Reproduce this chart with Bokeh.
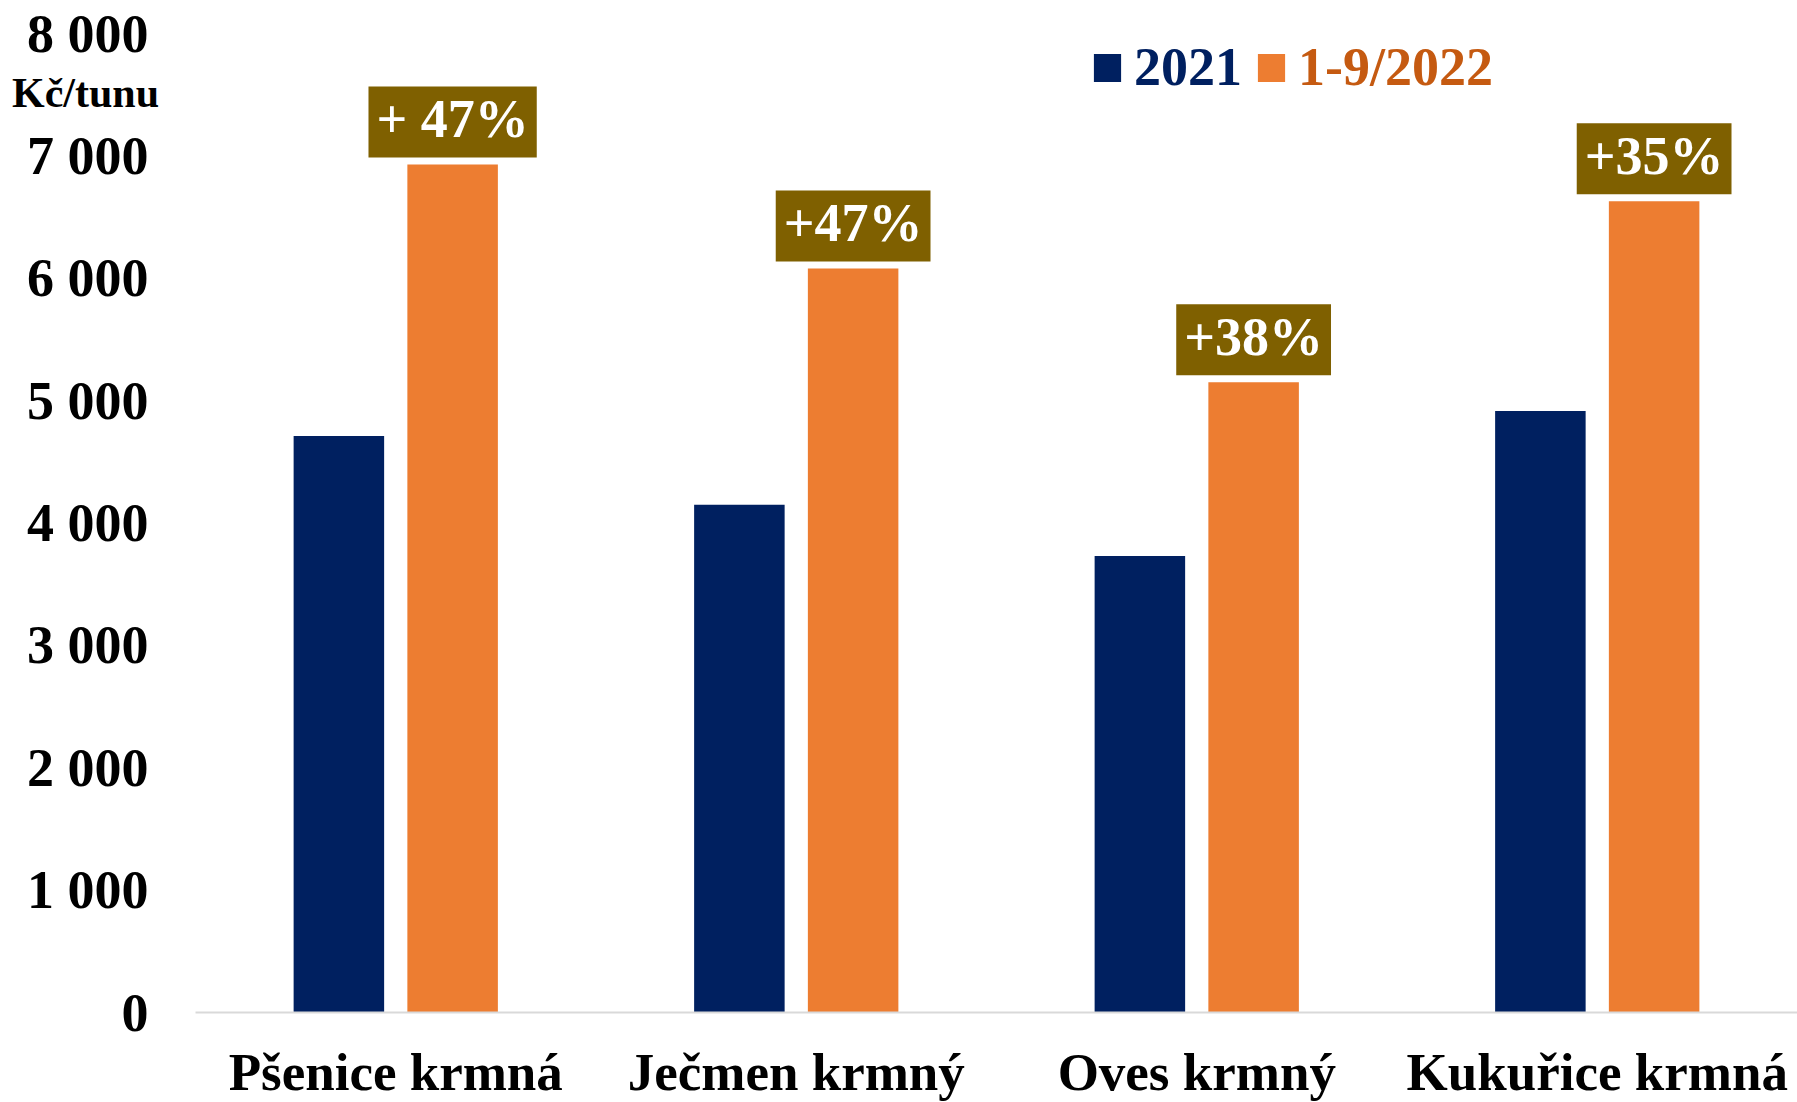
from bokeh.plotting import figure
from bokeh.models import ColumnDataSource, FixedTicker, Label, Legend, LegendItem, Range1d
from bokeh.transform import dodge
from bokeh.core.properties import value
from bokeh.embed import file_html
from bokeh.resources import INLINE

categories = ["Pšenice krmná", "Ječmen krmný", "Oves krmný", "Kukuřice krmná"]
values_2021 = [4710, 4150, 3730, 4915]
values_2022 = [6930, 6080, 5150, 6630]
change_labels = ["+ 47%", "+47%", "+38%", "+35%"]
series_names = ["2021", "1-9/2022"]
y_ticks = [0, 1000, 2000, 3000, 4000, 5000, 6000, 7000, 8000]
y_tick_labels = ["0", "1 000", "2 000", "3 000", "4 000", "5 000", "6 000", "7 000", "8 000"]
unit_label = "Kč/tunu"

NAVY = "#002060"
ORANGE = "#ED7D31"
ORANGE_TEXT = "#C55A11"
BOX = "#7F6000"
FONT = "Liberation Serif"

n = len(categories)
cat_pos = [i + 0.5 for i in range(n)]  # centre of each category slot

src = ColumnDataSource(dict(x=cat_pos, cat=categories, v21=values_2021,
                            v22=values_2022, lab=change_labels))

# layout: the frame fills the whole canvas; the axes are drawn inside it
W, H = 1797, 1102
left_px, top_px, bottom_px = 195, 33, 90       # room for tick labels
slot_px = (W - left_px) / n
x_start = -left_px / slot_px
y_max = y_ticks[-1]
px_per_unit = (H - top_px - bottom_px) / y_max
y_end = y_max + top_px / px_per_unit
y_start = -bottom_px / px_per_unit

p = figure(x_range=Range1d(x_start, n), y_range=Range1d(y_start, y_end), width=W, height=H,
           output_backend="svg", toolbar_location=None,
           min_border_left=0, min_border_right=0, min_border_top=0, min_border_bottom=0)
p.outline_line_color = None
p.grid.visible = False
p.background_fill_color = "white"
p.border_fill_color = "white"

bw = 0.226
off = 0.142
r21 = p.vbar(x=dodge("x", -off), top="v21", bottom=0, width=bw, source=src,
             fill_color=NAVY, line_color=None)
r22 = p.vbar(x=dodge("x", off), top="v22", bottom=0, width=bw, source=src,
             fill_color=ORANGE, line_color=None)

p.text(x=dodge("x", off), y="v22", text="lab", source=src,
       text_align="center", text_baseline="bottom", y_offset=-7,
       text_color="white", text_font=value(FONT), text_font_style="bold",
       text_font_size="54px", background_fill_color=BOX, padding=(8, 8, 3, 8))

# y axis drawn at the left edge of the category area
p.yaxis.fixed_location = 0
p.yaxis.ticker = FixedTicker(ticks=y_ticks)
p.yaxis.major_label_overrides = {t: l for t, l in zip(y_ticks, y_tick_labels)}
p.yaxis.bounds = (0, y_max)
p.yaxis.axis_line_color = None
p.yaxis.major_tick_line_color = None
p.yaxis.minor_tick_line_color = None
p.yaxis.major_label_standoff = 41
p.yaxis.major_label_text_font = FONT
p.yaxis.major_label_text_font_style = "bold"
p.yaxis.major_label_text_font_size = "54px"
p.yaxis.major_label_text_color = "black"

# x axis drawn at value 0
p.xaxis.fixed_location = 0
p.xaxis.ticker = FixedTicker(ticks=cat_pos)
p.xaxis.major_label_overrides = {x: c for x, c in zip(cat_pos, categories)}
p.xaxis.bounds = (0, n)
p.xaxis.axis_line_color = "#D9D9D9"
p.xaxis.axis_line_width = 2
p.xaxis.major_tick_line_color = None
p.xaxis.minor_tick_line_color = None
p.xaxis.major_label_standoff = 24
p.xaxis.major_label_text_font = FONT
p.xaxis.major_label_text_font_style = "bold"
p.xaxis.major_label_text_font_size = "53px"
p.xaxis.major_label_text_color = "black"

p.add_layout(Label(x=85, y=1010, x_units="screen", y_units="screen", text=unit_label,
                   text_align="center", text_baseline="middle", text_font=FONT,
                   text_font_style="bold", text_font_size="42px", text_color="black"))

def make_legend(name, rend, color, loc):
    return Legend(items=[LegendItem(label=name, renderers=[rend])], location=loc,
                  label_text_font=FONT, label_text_font_style="bold",
                  label_text_font_size="54px", label_text_color=color,
                  glyph_width=34, glyph_height=35, label_standoff=10, label_height=64,
                  padding=0, margin=0, spacing=0, border_line_color=None,
                  background_fill_alpha=0)

p.add_layout(make_legend(series_names[0], r21, NAVY, (1090, 1003)))
p.add_layout(make_legend(series_names[1], r22, ORANGE_TEXT, (1254, 1003)))

open("out.html", "w").write(file_html(p, INLINE))
